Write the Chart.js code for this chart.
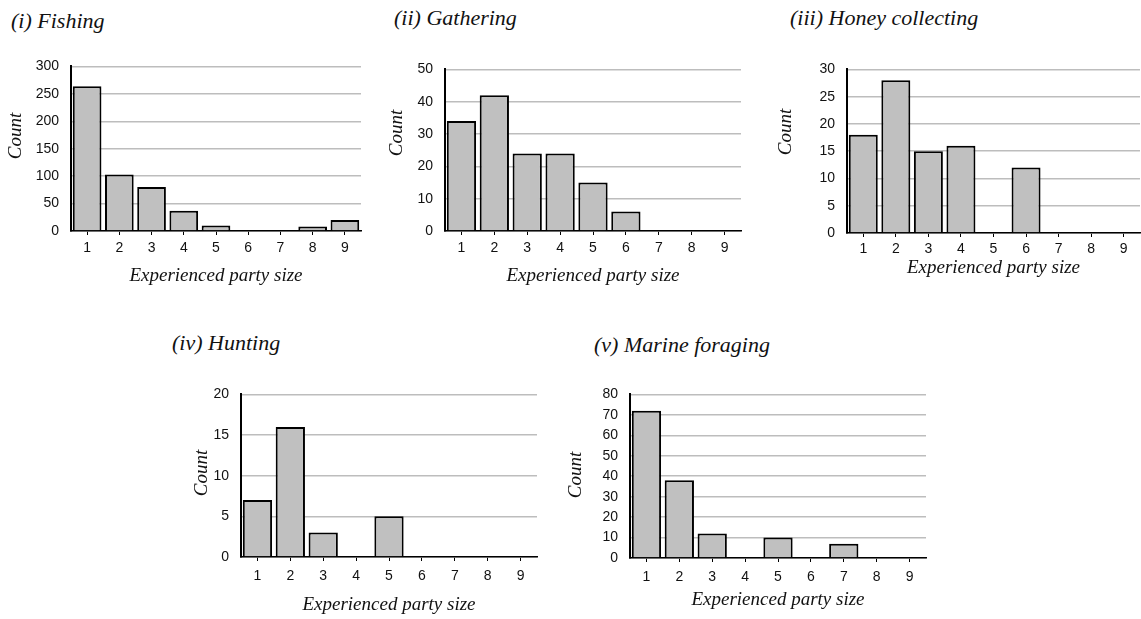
<!DOCTYPE html>
<html>
<head>
<meta charset="utf-8">
<script src="https://cdn.jsdelivr.net/npm/chart.js@4.4.1/dist/chart.umd.min.js"></script>
<style>
  html, body { margin: 0; padding: 0; background: #ffffff; overflow: hidden; }
  body { width: 1141px; height: 619px; position: relative; }
  .panel-title {
    position: absolute;
    font-family: "Liberation Serif", serif;
    font-style: italic;
    font-size: 22px;
    line-height: 22px;
    color: #111;
    white-space: nowrap;
  }
  canvas { position: absolute; }
</style>
</head>
<body>
<script>
// Party-size categories shared by every panel
const partySizes = ['1', '2', '3', '4', '5', '6', '7', '8', '9'];

// Counts per experienced party size, one array per activity
const fishingCounts   = [264, 103, 80, 37, 10, 0, 0, 8, 20];
const gatheringCounts = [34, 42, 24, 24, 15, 6, 0, 0, 0];
const honeyCounts     = [18, 28, 15, 16, 0, 12, 0, 0, 0];
const huntingCounts   = [7, 16, 3, 0, 5, 0, 0, 0, 0];
const marineCounts    = [72, 38, 12, 0, 10, 0, 7, 0, 0];

// Panel titles
const panelTitles = ['(i) Fishing', '(ii) Gathering', '(iii) Honey collecting', '(iv) Hunting', '(v) Marine foraging'];

// Y-axis ranges per panel
const yMax  = [300, 50, 30, 20, 80];
const yStep = [50, 10, 5, 5, 10];

const seriesList = [fishingCounts, gatheringCounts, honeyCounts, huntingCounts, marineCounts];

// Page placement of each panel: plot-area edges, axis-caption centres, title anchor
const placement = [
  { left: 71,  right: 361,  top: 58,  bottom: 231, countX: 16,  countY: 136, xTitleY: 276, tickGap: 17.5, titleX: 11,  titleCapY: 20.7 },
  { left: 445, right: 741,  top: 61,  bottom: 231, countX: 397, countY: 133, xTitleY: 276, tickGap: 17.5, titleX: 394, titleCapY: 18.3 },
  { left: 847, right: 1140, top: 61,  bottom: 233, countX: 786, countY: 132, xTitleY: 268, tickGap: 15.8, titleX: 790, titleCapY: 18.3 },
  { left: 241, right: 537,  top: 386, bottom: 557, countX: 202, countY: 473, xTitleY: 605, tickGap: 19.3, titleX: 172, titleCapY: 343.3 },
  { left: 630, right: 926,  top: 386, bottom: 558, countX: 576, countY: 475, xTitleY: 600, tickGap: 19.5, titleX: 594, titleCapY: 345 }
];

const serifItalic = '"Liberation Serif", serif';
const tickFont = { family: '"Liberation Sans", Arial, sans-serif', size: 14 };
const axisTitleFont = { family: serifItalic, style: 'italic', size: 19, lineHeight: 1.2 };
const axisTitleLH = 19 * 1.2;

// Draws the rotated "Count" caption at a set point beside the value axis
const countCaption = {
  id: 'countCaption',
  afterDraw(chart, args, opts) {
    const ctx = chart.ctx;
    ctx.save();
    ctx.translate(opts.x, opts.y);
    ctx.rotate(-Math.PI / 2);
    ctx.font = 'italic 19px ' + serifItalic;
    ctx.fillStyle = '#111111';
    ctx.textAlign = 'center';
    ctx.textBaseline = 'middle';
    ctx.fillText(opts.text, 0, 0);
    ctx.restore();
  }
};

seriesList.forEach((values, i) => {
  const p = placement[i];

  const title = document.createElement('div');
  title.className = 'panel-title';
  title.textContent = panelTitles[i];
  title.style.left = p.titleX + 'px';
  title.style.top = (p.titleCapY - 11.1) + 'px';
  document.body.appendChild(title);

  const padTop = 12, padRight = 2;
  const cLeft = Math.round(p.countX - axisTitleLH / 2);
  const cTop = p.top - padTop;
  const cWidth = Math.round(p.right + padRight - cLeft);
  const cHeight = Math.round(p.xTitleY + axisTitleLH / 2 - cTop);
  const yAxisWidth = p.left - cLeft;
  const xAxisHeight = (cTop + cHeight) - p.bottom;
  const tickLength = 4;
  const labelPad = p.tickGap - tickLength - (tickFont.size * 1.2) / 2;

  const canvas = document.createElement('canvas');
  canvas.width = cWidth;
  canvas.height = cHeight;
  canvas.style.left = cLeft + 'px';
  canvas.style.top = cTop + 'px';
  canvas.style.width = cWidth + 'px';
  canvas.style.height = cHeight + 'px';
  document.body.appendChild(canvas);

  new Chart(canvas, {
    type: 'bar',
    data: {
      labels: partySizes,
      datasets: [{
        data: values,
        backgroundColor: '#c0c0c0',
        borderColor: '#000000',
        borderWidth: 2,
        categoryPercentage: 1.0,
        barPercentage: 0.89
      }]
    },
    plugins: [countCaption],
    options: {
      responsive: false,
      animation: false,
      devicePixelRatio: 1,
      layout: { padding: { left: 0, right: padRight, top: padTop, bottom: 0 } },
      plugins: {
        legend: { display: false },
        tooltip: { enabled: false },
        title: { display: false },
        countCaption: { text: 'Count', x: p.countX - cLeft, y: p.countY - cTop }
      },
      scales: {
        x: {
          offset: true,
          grid: {
            offset: false,
            drawOnChartArea: false,
            drawTicks: true,
            tickLength: tickLength,
            color: '#000000',
            lineWidth: 1
          },
          border: { display: true, color: '#000000', width: 1.6 },
          ticks: { font: tickFont, color: '#111111', padding: labelPad, maxRotation: 0, autoSkip: false },
          title: {
            display: true,
            text: 'Experienced party size',
            font: axisTitleFont,
            color: '#111111',
            padding: 0
          },
          afterFit: (scale) => { scale.height = xAxisHeight; }
        },
        y: {
          min: 0,
          max: yMax[i],
          ticks: { stepSize: yStep[i], font: tickFont, color: '#111111', padding: 12 },
          grid: { color: '#bdbdbd', lineWidth: 1.4, drawTicks: false },
          border: { display: true, color: '#000000', width: 2 },
          afterFit: (scale) => { scale.width = yAxisWidth; }
        }
      }
    }
  });
});
</script>
</body>
</html>
